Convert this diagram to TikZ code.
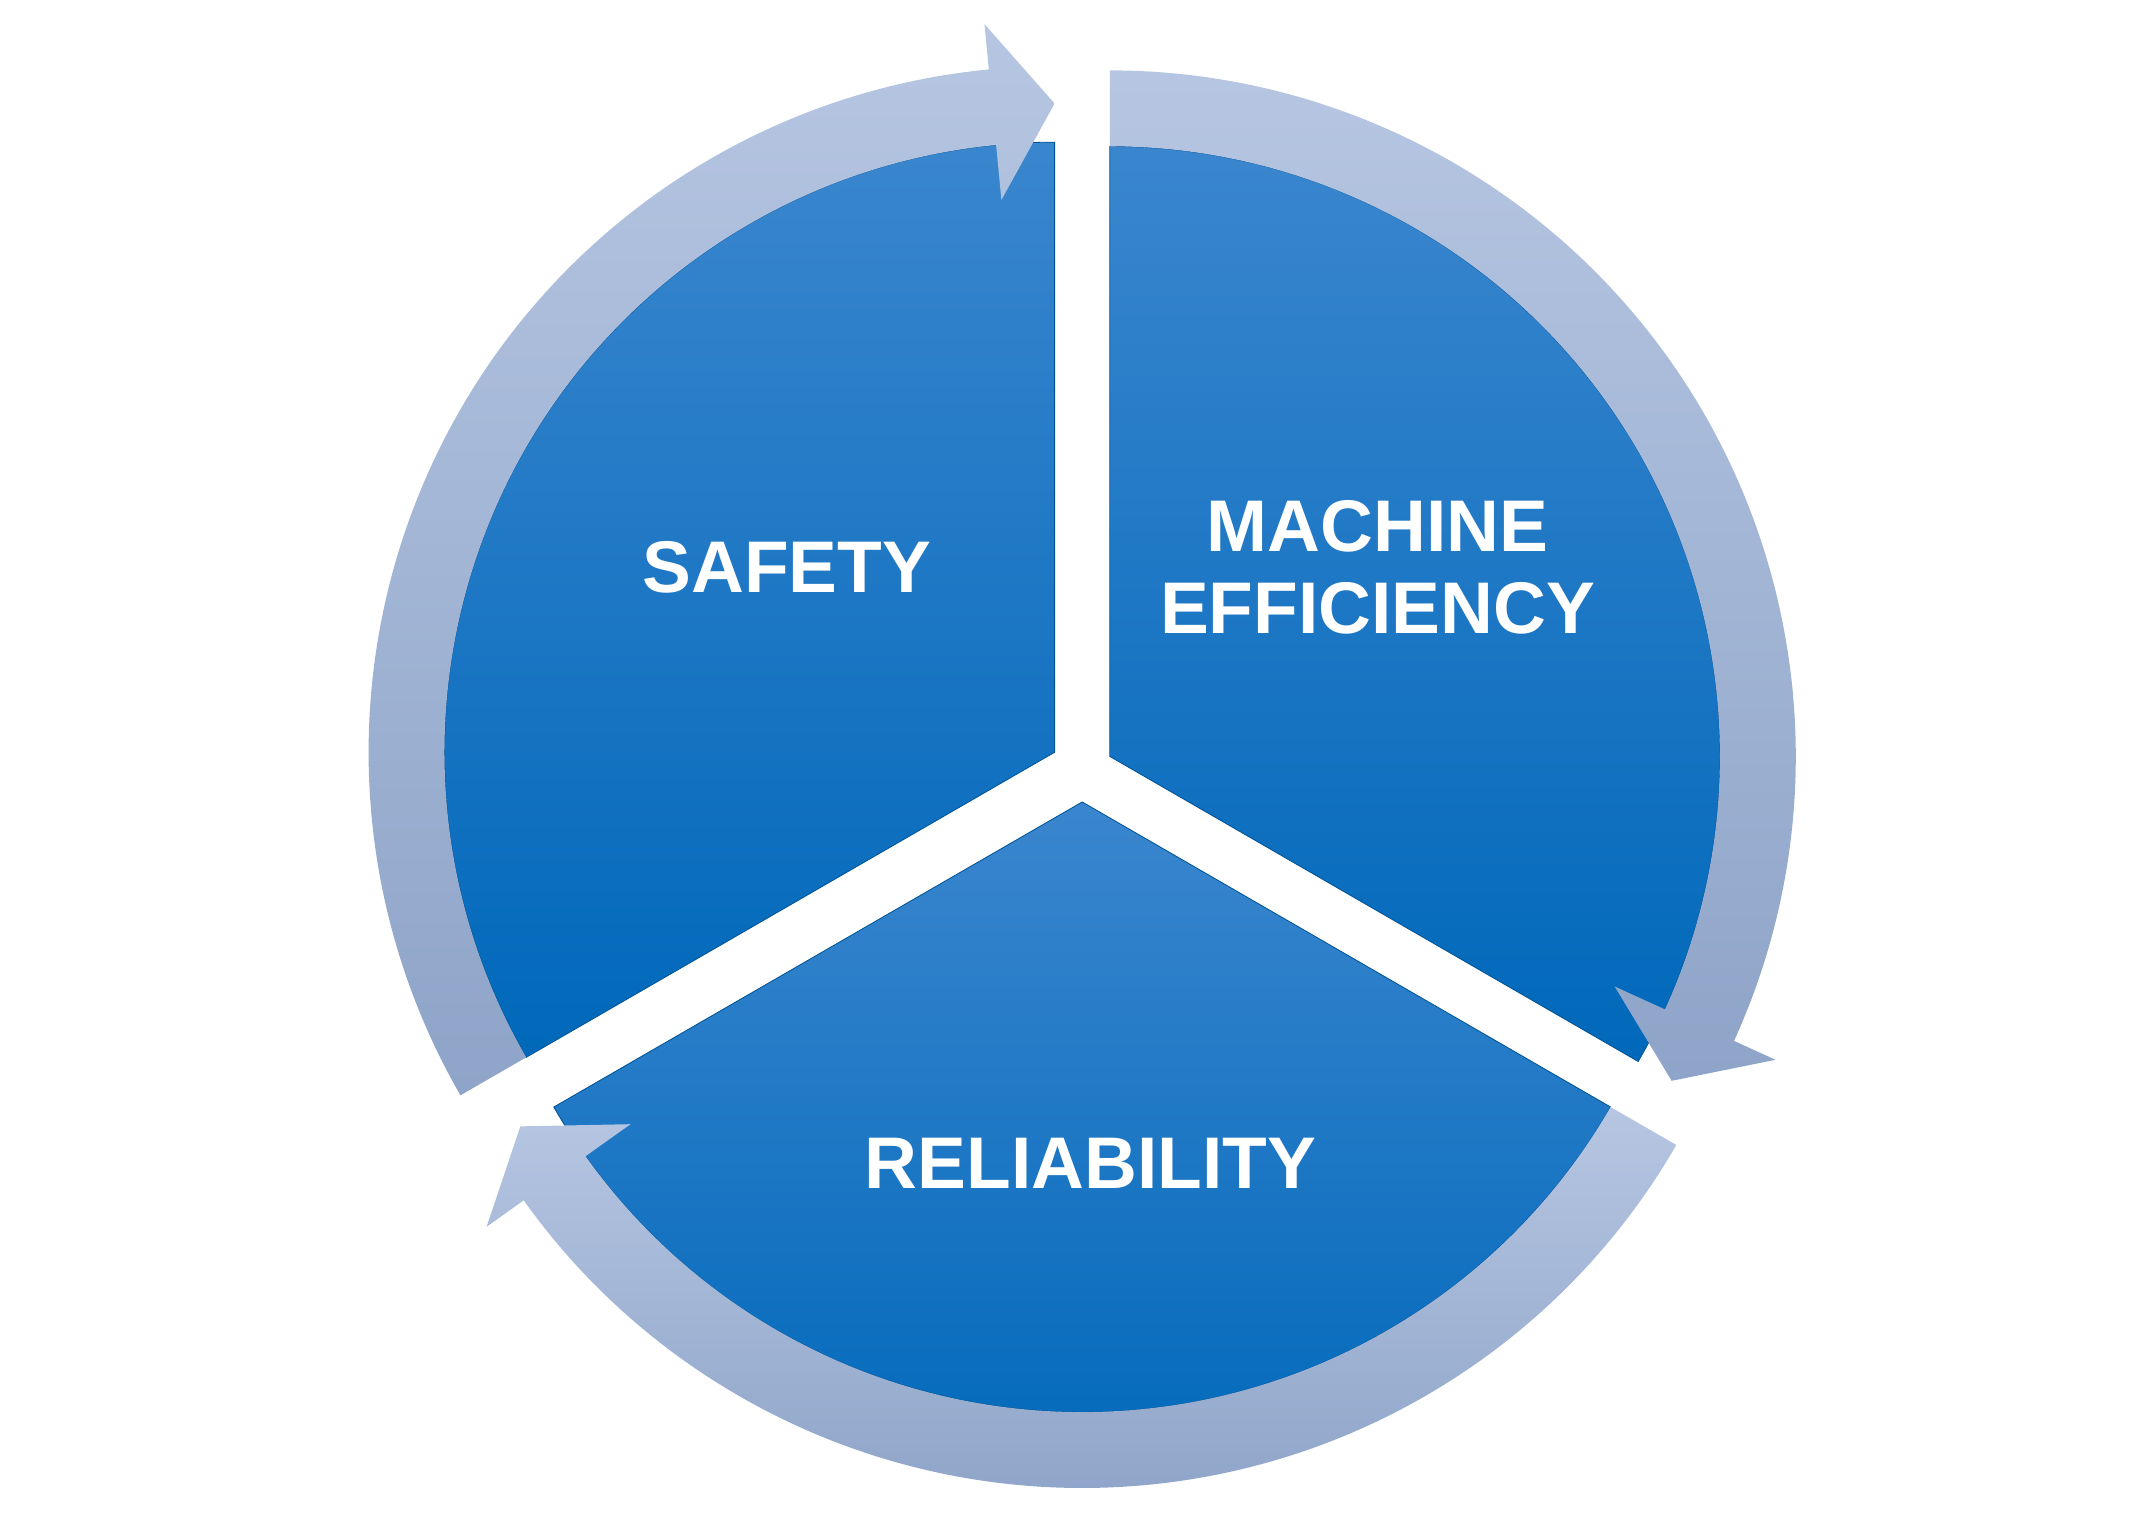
\documentclass[tikz,border=0pt]{standalone}
\usepackage{fontspec}
\setmainfont{Liberation Sans}
\begin{document}
\begin{tikzpicture}[x=1pt,y=1pt,
  sector/.style={top color=sectop,bottom color=secbot,draw=secbot!80!black,line width=0.6pt},
  ringarrow/.style={top color=ringtop,bottom color=ringbot,draw=none},
  lbl/.style={text=white,font=\bfseries\fontsize{53}{60}\selectfont,align=center}]
\definecolor{sectop}{HTML}{3A86CE}
\definecolor{secbot}{HTML}{0068BA}
\definecolor{ringtop}{HTML}{B6C6E2}
\definecolor{ringbot}{HTML}{8EA4C8}
\useasboundingbox (0,0) rectangle (1546,1112);
\coordinate (cs) at (764,567);
\coordinate (cm) at (804,564);
\coordinate (cr) at (784,531);
% sectors
\draw[sector] (cs) -- ++(90:442) arc[start angle=90,end angle=210,radius=442] -- cycle;
\draw[sector] (cm) -- ++(90:442) arc[start angle=90,end angle=-30,radius=442] -- cycle;
\draw[sector] (cr) -- ++(210:442) arc[start angle=210,end angle=330,radius=442] -- cycle;
% ring arrows
\foreach \c/\s in {cs/210,cm/90,cr/-30}{
  \pgfmathsetmacro{\b}{\s-114.5}
  \pgfmathsetmacro{\t}{\s-120}
  \begin{scope}[shift={(\c)}]
    \path[ringarrow]
      (\s:442) arc[start angle=\s,end angle=\b,radius=442]
      -- (\b:402) -- (\t:470) -- (\b:530) -- (\b:497)
      arc[start angle=\b,end angle=\s,radius=497] -- cycle;
  \end{scope}}
\node[lbl] (safety) at (570,701) {SAFETY};
\node[lbl] (machine) at (998,701) {MACHINE\\EFFICIENCY};
\node[lbl] (rel) at (790,269) {RELIABILITY};
\end{tikzpicture}
\end{document}
